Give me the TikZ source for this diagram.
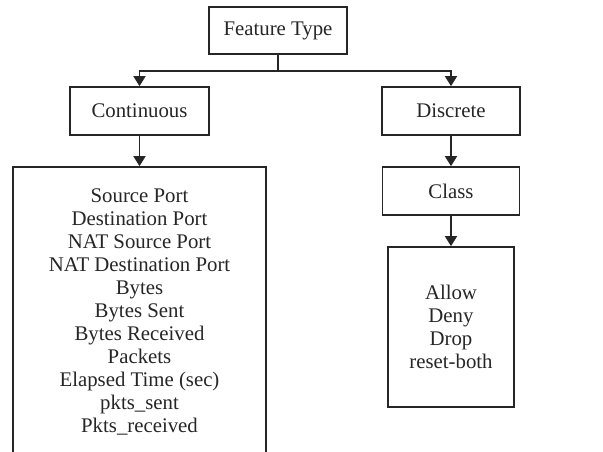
\documentclass[tikz,border=0pt]{standalone}
\usepackage{fontspec}
\setmainfont{Liberation Serif}
\usetikzlibrary{arrows.meta}
\definecolor{ink}{HTML}{262626}
\tikzset{
  box/.style={draw=ink, line width=1.7pt, text=ink, font=\fontsize{20.8}{23}\selectfont, align=center, inner sep=0pt},
  arr/.style={draw=ink, line width=1.7pt, -{Triangle[length=10pt,width=12pt]}},
  ln/.style={draw=ink, line width=1.7pt}
}
\begin{document}
\begin{tikzpicture}[x=1pt,y=-1pt]
\useasboundingbox (0,0) rectangle (603,452);
\clip (0,0) rectangle (603,452);
\fill[white] (0,0) rectangle (603,452);
\node[box, minimum width=138pt, minimum height=47pt] (ft) at (278,30.5) {Feature Type};
\node[box, minimum width=139pt, minimum height=48pt] (cont) at (139.5,111) {Continuous};
\node[box, minimum width=138pt, minimum height=48pt] (disc) at (451,111) {Discrete};
\node[box, minimum width=253pt, minimum height=290pt] (cbox) at (139.5,312) {Source Port\\Destination Port\\NAT Source Port\\NAT Destination Port\\Bytes\\Bytes Sent\\Bytes Received\\Packets\\Elapsed Time (sec)\\pkts\_sent\\Pkts\_received};
\node[box, minimum width=137pt, minimum height=48pt] (cls) at (451,191) {Class};
\node[box, minimum width=126pt, minimum height=160pt] (act) at (451,327) {Allow\\Deny\\Drop\\reset-both};
\coordinate (j) at (278,71);
\draw[ln] (ft.south) -- (j);
\draw[arr] (j) -| (cont.north);
\draw[arr] (j) -| (disc.north);
\draw[arr] (cont.south) -- (cbox.north);
\draw[arr] (disc.south) -- (cls.north);
\draw[arr] (cls.south) -- (act.north);
\end{tikzpicture}
\end{document}
